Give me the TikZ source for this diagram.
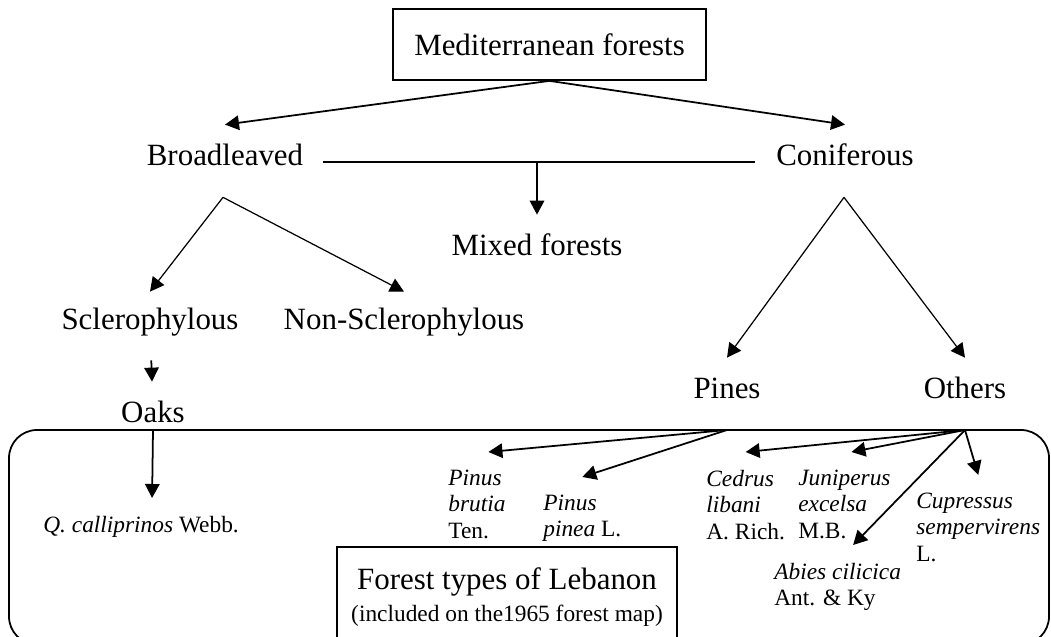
\documentclass[tikz,border=0pt]{standalone}
\usepackage{fontspec}
\setmainfont{Liberation Serif}
\usetikzlibrary{arrows.meta, positioning, calc}
\newcommand{\labfont}{\fontsize{17.6}{21}\selectfont}
\newcommand{\spfont}{\fontsize{13.3}{15.1}\selectfont}

\begin{document}
\begin{tikzpicture}[
    >={Triangle[length=0.28cm, width=0.29cm]},
    term/.style={font=\labfont, inner sep=0pt, minimum height=1.2cm},
    species/.style={font=\spfont, align=left, anchor=north west, inner xsep=0pt, inner ysep=0.35cm},
    link/.style={->, line width=1pt},
    fork/.style={->, line width=0.7pt}
]
\useasboundingbox (0, 0) rectangle (21.02, 12.74);

\draw[rounded corners=0.56cm, line width=1pt] (0.18, -0.15) rectangle (20.98, 4.14);
\path (0.18, 4.14) coordinate (FrameTop);

\node (Med) at (10.99, 11.85) [draw, line width=1pt, font=\labfont, minimum width=6.26cm, minimum height=1.42cm] {Mediterranean forests};

\node (Broad) at (4.50, 9.64) [term] {Broadleaved};
\node (Conif) at (16.90, 9.64) [term] {Coniferous};
\node (Mixed) at (10.74, 7.84) [term] {Mixed forests};
\node (Scler) at (3.00, 6.30) [term] {Sclerophylous};
\node (NonScler) at (8.08, 6.30) [term] {Non-Sclerophylous};
\node (Oaks) at (3.06, 4.50) [term] {Oaks};
\node (Pines) at (14.54, 4.98) [term] {Pines};
\node (Others) at (19.30, 4.98) [term] {Others};

\coordinate (BroadFork) at ($(Broad.south)+(-0.04, -0.24)$);
\coordinate (ConifFork) at ($(Conif.south)+(-0.02, -0.24)$);

\draw[link] (Med.south) -- (Broad.north);
\draw[link] (Med.south) -- (Conif.north);

\draw[line width=1pt] (Broad.east) ++(0.38, -0.14) coordinate (MixL) -- ($(Conif.west)+(-0.41, -0.14)$) coordinate (MixR);
\draw[link] (Mixed |- MixL) -- (Mixed);

\draw[fork] (BroadFork) -- (Scler.north);
\draw[fork] (BroadFork) -- (NonScler.north);
\draw[fork] (ConifFork) -- (Pines.north);
\draw[fork] (ConifFork) -- (Others.north);
\draw[link, shorten <=0.16cm] (Scler) -- (Oaks);

\node (Qc) at (0.86, 2.78) [species] {\textit{Q. calliprinos} Webb.};
\node (Pb) at (8.96, 3.70) [species] {\textit{Pinus}\\\textit{brutia}\\Ten.};
\node (Pp) at (10.86, 3.20) [species] {\textit{Pinus}\\\textit{pinea} L.};
\node (Cl) at (14.12, 3.70) [species] {\textit{Cedrus}\\\textit{libani}\\A. Rich.};
\node (Je) at (15.96, 3.70) [species] {\textit{Juniperus}\\\textit{excelsa}\\M.B.};
\node (Ac) at (15.48, 1.84) [species] {\textit{Abies cilicica}\\Ant. \& Ky};
\node (Cs) at (18.32, 3.24) [species] {\textit{Cupressus}\\\textit{sempervirens}\\L.};

\draw[link] (Oaks |- FrameTop) -- ($(Qc.north)+(0.22, 0)$);
\draw[link] (Pines |- FrameTop) -- ($(Pb.north)+(0.23, 0)$);
\draw[link] (Pines |- FrameTop) -- (Pp.north);
\draw[link] (Others |- FrameTop) -- (Cl.north);
\draw[link] (Others |- FrameTop) -- ($(Je.north)+(0.14, 0)$);
\draw[link] (Others |- FrameTop) -- ($(Ac.north)+(0.31, 0)$);
\draw[link] (Others |- FrameTop) -- (Cs.north);

\node (Types) at (10.14, 1.82) [draw, line width=1pt, anchor=north, minimum width=6.80cm, minimum height=2.0cm, align=center, font=\labfont] {Forest types of Lebanon\\[-3pt]{\spfont (included on the1965 forest map)}};

\end{tikzpicture}
\end{document}
